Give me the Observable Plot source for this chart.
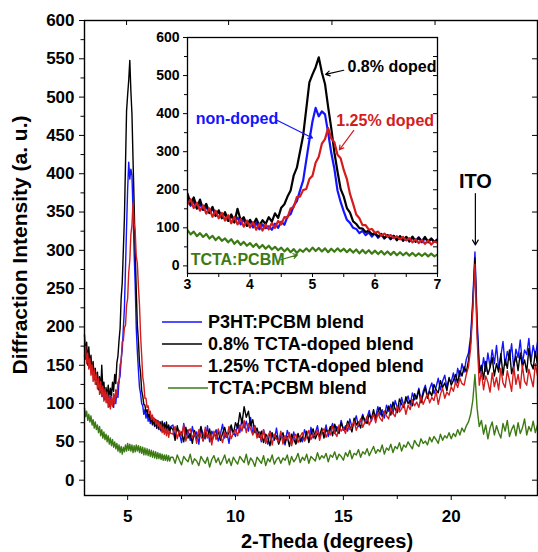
<!DOCTYPE html>
<html><head><meta charset="utf-8">
<script src="https://cdn.jsdelivr.net/npm/d3@7"></script>
<script src="https://cdn.jsdelivr.net/npm/@observablehq/plot@0.6"></script>
<style>
body{margin:0;background:#fff;}
#wrap{position:relative;width:538px;height:552px;font-family:"Liberation Sans",Arial,sans-serif;font-weight:bold;}
#wrap > svg{position:absolute;left:0;top:0;}
#legend{position:absolute;left:160px;top:311px;}
.row{display:flex;align-items:center;height:22px;font-size:18px;white-space:nowrap;color:#000;}
.row svg{display:block;}
</style></head><body><div id="wrap"></div>
<script>
// ---- series meta ----
const seriesNames = ["P3HT:PCBM blend", "0.8% TCTA-doped blend", "1.25% TCTA-doped blend", "TCTA:PCBM blend"];
const seriesColors = ["#1414ff", "#000000", "#d41c1c", "#3c7a14"];

// sampling grids (x in degrees)
const insetX0 = 3, insetStep = 0.05;   // 3.00 .. 7.00
const mainX0 = 7.1, mainStep = 0.1;    // 7.1 .. 24.0

// ---- values 3.00-7.00 (step 0.05) ----
const p3htA = [175,158,170,150,163,147,155,139,151,133, 142,128,137,119,133,116,127,109,122,106,
  118,101,113,96,109,99,104,95,111,100, 116,108,130,136,158,170,198,224,277,330,
  380,415,393,406,398,350,297,255,198,168, 143,121,113,100,97,86,92,81,88,77,
  85,74,83,72,81,70,79,68,77,66, 76,64,74,66,75,62,73,65,71,63, 70];
const dop08A = [190,163,180,152,174,148,163,139,155,131, 146,125,141,118,135,114,150,120,128,105,
  121,108,124,106,120,110,128,116,138,126, 153,162,182,198,238,258,300,342,412,482,
  503,522,548,508,478,418,362,298,248,202, 182,152,140,117,110,99,98,89,92,83,
  86,77,84,73,81,71,79,68,78,67, 76,65,77,63,74,65,76,62,72,63, 69];
const dop125A = [162,175,152,166,145,159,137,151,129,145, 125,139,119,133,112,129,109,123,103,119,
  101,115,95,111,93,109,96,113,100,118, 109,128,127,151,155,181,182,199,202,228,
  237,271,287,321,333,362,335,325,292,283, 252,228,189,163,135,125,107,107,95,97,
  87,90,79,85,77,81,73,78,70,76, 67,73,62,70,60,68,58,67,56,64, 61];
const tctaA = [94,83,90,78,86,76,84,72,79,68, 76,66,72,62,70,58,66,55,63,53,
  60,50,58,47,55,45,53,43,50,41, 48,38,46,36,44,34,43,37,46,38,
  48,39,47,38,46,36,45,37,46,38, 45,36,44,35,43,33,42,33,41,32,
  40,31,39,30,38,29,37,28,36,28, 35,27,34,26,33,26,33,25,32,25, 30];

// ---- values 7.1-24.0 (step 0.1) ----
const p3htB = [72,55,68,61,49,74,58,66,52,70, 57,63,47,69,60,54,71,50,64,58,
  66,51,60,73,55,62,48,68,63,57, 74,62,80,68,77,64,82,60,71,58,
  63,50,66,55,47,64,58,52,68,49, 60,54,46,65,57,51,63,48,59,55,
  50,66,58,53,69,55,62,71,56,64, 60,72,57,66,74,61,70,63,78,65,
  71,64,80,69,75,84,70,78,86,74, 82,91,77,88,83,96,85,92,81,98,
  90,99,87,104,95,92,108,97,103,110, 98,114,105,109,120,103,116,124,108,119,
  127,113,122,133,118,129,137,121,132,128, 140,126,146,135,152,141,158,166,188,236,
  298,210,152,138,160,142,166,148,170,152, 176,145,162,181,150,168,157,178,146,171,
  160,183,152,170,164,185,155,176,162,180];
const dop08B = [66,52,71,58,63,50,69,55,61,48, 65,54,59,70,51,62,56,67,49,60,
  58,64,52,61,69,56,63,72,60,75, 68,88,74,96,82,90,71,79,62,68,
  56,64,49,60,55,45,62,53,58,47, 55,62,49,57,44,60,53,47,61,50,
  57,52,64,49,60,67,54,61,58,68, 55,66,62,70,58,73,64,61,75,67,
  66,77,70,63,81,72,76,68,84,78, 74,86,80,92,78,89,95,83,90,87,
  97,85,102,93,88,106,99,95,109,100, 104,97,113,106,118,101,112,121,107,116,
  110,125,118,114,130,121,127,117,134,124, 130,138,127,143,136,148,141,156,180,228,
  290,198,140,150,132,155,138,147,160,136, 152,141,165,137,158,146,170,139,150,162,
  143,166,148,157,141,172,152,145,168,150];
const dop125B = [60,70,54,65,58,72,51,63,67,55, 62,48,66,57,52,69,55,61,46,64,
  53,67,58,49,63,56,70,54,61,66, 58,72,64,78,62,74,67,59,70,55,
  61,52,66,48,58,63,46,60,54,50, 64,47,58,53,62,45,56,60,49,57,
  62,51,56,65,53,60,58,66,52,63, 67,56,64,59,70,62,57,72,64,68,
  61,74,66,70,77,65,73,80,69,76, 83,72,79,86,75,88,81,77,90,84,
  80,94,87,83,97,89,93,101,86,98, 92,105,97,102,95,110,99,106,113,101,
  108,104,116,99,112,120,107,115,111,122, 116,128,121,133,126,124,138,148,172,222,
  282,186,124,142,118,136,128,115,140,122, 134,118,146,127,121,143,130,116,148,125,
  138,120,150,129,124,145,133,122,152,136];
const tctaB = [30,22,33,26,20,31,27,24,34,21, 28,25,19,31,26,22,30,17,27,32,
  23,29,20,26,33,22,28,19,30,25, 21,31,27,23,34,20,29,25,18,30,
  26,22,32,19,28,24,33,21,27,30, 22,29,26,33,20,31,24,28,35,23,
  30,26,34,22,31,28,25,36,27,32, 29,35,24,33,30,37,27,34,31,26,
  36,31,39,28,35,33,40,30,37,34, 41,32,38,44,35,40,37,46,34,42,
  39,47,36,44,41,49,38,46,43,50, 45,41,52,47,44,54,48,51,46,56,
  50,57,53,48,60,52,58,55,62,54, 61,57,66,59,68,63,71,76,86,104,
  138,94,70,78,60,72,54,68,76,59, 71,62,55,74,64,78,57,66,72,58,
  75,61,68,80,59,70,64,77,62,72];

// ---- axis ticks ----
const xMajor = [5, 10, 15, 20];
const xMinor = [7.5, 12.5, 17.5, 22.5];
const xTopTicks = [4.95, 9.68, 14.47, 19.25];
const yMajor = [0,50,100,150,200,250,300,350,400,450,500,550,600];
const yMinor = [25,75,125,175,225,275,325,375,425,475,525,575];
const inXMajor = [3, 4, 5, 6, 7];
const inXMinor = [3.5, 4.5, 5.5, 6.5];
const inYMajor = [0, 100, 200, 300, 400, 500, 600];
const inYMinor = [50, 150, 250, 350, 450, 550];

// ---- annotations ----
const itoNote = [{text: "ITO", x: 21.12, y: 390, y1: 374, y2: 307}];
const insetNotes = [
  {text: "0.8% doped", color: "#000000", x: 5.56, y: 522, ax1: 5.50, ay1: 514, ax2: 5.21, ay2: 503},
  {text: "non-doped", color: "#1414ff", x: 3.13, y: 385, ax1: 4.44, ay1: 382, ax2: 5.0, ay2: 336},
  {text: "1.25% doped", color: "#d41c1c", x: 5.38, y: 382, ax1: 5.66, ay1: 356, ax2: 5.43, ay2: 305},
  {text: "TCTA:PCBM", color: "#3c7a14", x: 3.05, y: 16, ax1: 4.49, ay1: 16, ax2: 4.76, ay2: 29}
];

// ---- build tables ----
function rowsA(vals) { return vals.map((v, i) => ({x: +(insetX0 + i * insetStep).toFixed(2), y: v})); }
function rowsB(vals) { return vals.map((v, i) => ({x: +(mainX0 + i * mainStep).toFixed(2), y: v})); }
const partsA = [p3htA, dop08A, dop125A, tctaA].map(rowsA);
const partsB = [p3htB, dop08B, dop125B, tctaB].map(rowsB);
const full = partsA.map((a, k) => a.concat(partsB[k]));

const font = {fontFamily: "'Liberation Sans', Arial, sans-serif", fontWeight: "bold"};
const W = 538, H = 552;

// ---- main chart ----
const mL = 84, mR = 1, mT = 20, mB = 57;
const fW = W - mL - mR, fH = H - mT - mB;
const main = Plot.plot({
  width: W, height: H,
  marginLeft: mL, marginRight: mR, marginTop: mT, marginBottom: mB,
  x: {domain: [3, 24]},
  y: {domain: [-20, 600]},
  style: {...font, background: "white", color: "black"},
  marks: [
    ...full.map((d, k) => Plot.line(d, {x: "x", y: "y", stroke: seriesColors[k], strokeWidth: 1.4})),
    Plot.frame({stroke: "black", strokeWidth: 1.4}),
    Plot.axisX({ticks: xMajor, tickSize: 5, tickPadding: 9, fontSize: 17, label: null}),
    Plot.axisX({ticks: xMinor, tickSize: 4, tickFormat: () => "", label: null}),
    Plot.axisY({ticks: yMajor, tickSize: 5, tickPadding: 5, fontSize: 17, label: null}),
    Plot.axisY({ticks: yMinor, tickSize: 3.5, tickFormat: () => "", label: null}),
    Plot.ruleX(xTopTicks, {insetBottom: fH - 5, strokeWidth: 1}),
    Plot.ruleY(yMajor, {insetLeft: fW - 5, strokeWidth: 1}),
    Plot.text(["2-Theda (degrees)"], {frameAnchor: "bottom", lineAnchor: "middle", dx: 16, dy: 46, fontSize: 20, fontWeight: "bold"}),
    Plot.text(["Diffraction Intensity (a. u.)"], {frameAnchor: "left", textAnchor: "middle", lineAnchor: "middle", rotate: -90, dx: -64, dy: -13, fontSize: 21, fontWeight: "bold"}),
    Plot.text(itoNote, {x: "x", y: "y", text: "text", fontSize: 20, fontWeight: "bold"}),
    Plot.arrow(itoNote, {x1: "x", x2: "x", y1: "y1", y2: "y2", stroke: "black", strokeWidth: 1.2, headLength: 7})
  ]
});

// ---- inset chart (overlay) ----
const iL = 187, iR = W - 437, iT = 37, iB = H - 273;
const iW = W - iL - iR, iH = H - iT - iB;
const inset = Plot.plot({
  width: W, height: H,
  marginLeft: iL, marginRight: iR, marginTop: iT, marginBottom: iB,
  x: {domain: [3, 7]},
  y: {domain: [-20, 600]},
  color: {type: "identity"},
  style: {...font, background: "transparent", color: "black"},
  marks: [
    ...partsA.map((d, k) => Plot.line(d, {x: "x", y: "y", stroke: seriesColors[k], strokeWidth: 2.2, clip: true})),
    Plot.frame({stroke: "black", strokeWidth: 1.3}),
    Plot.axisX({ticks: inXMajor, tickSize: 4, tickPadding: 2, fontSize: 14, tickFormat: d => String(d), label: null}),
    Plot.axisX({ticks: inXMinor, tickSize: 4, tickFormat: () => "", label: null}),
    Plot.axisY({ticks: inYMajor, tickSize: 4, tickPadding: 4, fontSize: 14, tickFormat: d => String(d), label: null}),
    Plot.axisY({ticks: inYMinor, tickSize: 3, tickFormat: () => "", label: null}),
    Plot.ruleY(inYMajor.concat(inYMinor), {insetLeft: iW - 4, strokeWidth: 1}),
    Plot.text(insetNotes, {x: "x", y: "y", text: "text", fill: d => d.color, textAnchor: "start", fontSize: 16, fontWeight: "bold"}),
    Plot.arrow(insetNotes, {x1: "ax1", y1: "ay1", x2: "ax2", y2: "ay2", stroke: d => d.color, strokeWidth: 1.2, headLength: 6})
  ]
});

const wrap = document.getElementById("wrap");
wrap.appendChild(main);
wrap.appendChild(inset);

// ---- legend ----
const legend = document.createElement("div");
legend.id = "legend";
seriesNames.forEach((name, k) => {
  const row = document.createElement("div");
  row.className = "row";
  const last = k === seriesNames.length - 1;
  row.innerHTML = `<svg width="40" height="6" style="margin-left:${last ? 8 : 2}px"><line x1="0" x2="40" y1="3" y2="3" stroke="${seriesColors[k]}" stroke-width="1.5"/></svg><span style="margin-left:${last ? 0 : 6}px">${name}</span>`;
  legend.appendChild(row);
});
wrap.appendChild(legend);
</script>
</body></html>
